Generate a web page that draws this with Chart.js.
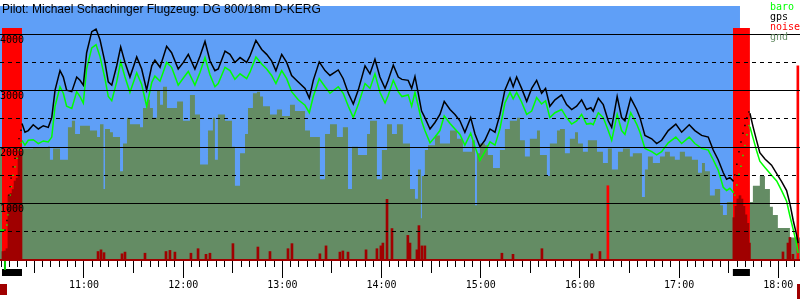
<!DOCTYPE html>
<html>
<head>
<meta charset="utf-8">
<script src="https://cdn.jsdelivr.net/npm/chart.js@4.4.1/dist/chart.umd.min.js"></script>
<style>
  html, body { margin: 0; padding: 0; background: #fff; }
  #wrap { width: 800px; height: 300px; }
</style>
</head>
<body>
<div id="wrap"><canvas id="baro" width="800" height="300"></canvas></div>
<script>
const TITLE = 'Pilot: Michael Schachinger Flugzeug: DG 800/18m D-KERG';

// times are minutes after midnight
const TIMES = [
  609.2, 612.2, 613.4, 614.0, 614.6, 615.3, 615.9, 617.1, 618.3, 619.5,
  620.7, 621.9, 622.5, 624.3, 626.3, 629.3, 632.4, 635.4, 638.4, 640.5,
  642.5, 645.5, 647.5, 649.5, 652.6, 655.6, 657.6, 659.6, 661.6, 664.7,
  667.3, 669.7, 672.7, 674.7, 676.8, 679.8, 682.2, 684.8, 687.8, 691.9,
  694.9, 697.9, 701.0, 702.9, 706.0, 710.0, 713.0, 717.0, 720.1, 723.1,
  727.1, 730.2, 733.2, 736.2, 739.2, 741.2, 745.3, 748.3, 751.3, 754.4,
  758.4, 760.4, 764.0, 767.5, 770.5, 773.5, 776.1, 779.6, 782.6, 785.6,
  789.6, 793.7, 796.3, 798.7, 802.3, 805.8, 808.8, 813.8, 816.8, 819.9,
  822.9, 825.9, 830.0, 833.0, 836.0, 839.0, 842.1, 844.0, 847.1, 850.1,
  852.3, 856.1, 858.2, 860.2, 862.2, 864.2, 866.2, 869.3, 872.3, 875.3,
  877.9, 881.4, 884.4, 887.4, 890.4, 893.9, 896.5, 899.5, 902.5, 905.6,
  908.6, 911.6, 914.6, 917.7, 919.6, 921.7, 924.7, 927.8, 930.8, 933.8,
  936.8, 939.2, 941.8, 944.9, 948.9, 951.9, 955.0, 958.0, 961.0, 964.0,
  966.6, 968.0, 971.1, 974.1, 977.1, 979.2, 982.5, 985.2, 987.2, 990.7,
  994.3, 996.3, 999.3, 1003.4, 1006.4, 1009.4, 1013.4, 1018.0, 1021.5, 1026.1,
  1029.5, 1033.6, 1037.6, 1040.6, 1043.6, 1046.7, 1048.7, 1050.7, 1052.7, 1053.7,
  1054.9, 1056.2, 1057.4, 1058.6, 1059.8, 1061.0, 1062.2, 1062.8, 1064.8, 1066.9,
  1068.8, 1071.9, 1075.9, 1079.0, 1082.0, 1085.0, 1087.0, 1089.0, 1091.0, 1092.0
];
const GPS_ALT = [
  null, 530, 700, 900, 1150, 1300, 1450, 1650, 1800, 1990,
  2150, 2300, 2420, 2264, 2293, 2397, 2321, 2379, 2350, 2522,
  3010, 3355, 3241, 3010, 2983, 3241, 3183, 3097, 3672, 4045,
  4091, 3902, 3500, 3155, 3097, 3441, 3776, 3500, 3241, 3597,
  3384, 3010, 3441, 3540, 3414, 3786, 3672, 3384, 3500, 3643,
  3384, 3614, 3872, 3530, 3355, 3384, 3700, 3643, 3500, 3586,
  3500, 3614, 3890, 3729, 3643, 3528, 3355, 3643, 3500, 3269,
  3155, 3040, 2867, 3183, 3510, 3355, 3269, 3367, 3212, 2953,
  2764, 3010, 3441, 3298, 3557, 3241, 3040, 3183, 3453, 3241,
  3200, 3183, 3040, 3252, 2953, 2638, 2522, 2321, 2436, 2579,
  2810, 2666, 2579, 2466, 2264, 2522, 2234, 2005, 2121, 2321,
  2264, 2579, 3010, 3224, 3069, 3241, 3040, 2810, 3040, 3183,
  2953, 3040, 2724, 2838, 2924, 2752, 2666, 2724, 2838, 2666,
  2700, 2638, 2867, 2752, 2466, 2350, 2897, 2522, 2466, 2867,
  2666, 2522, 2207, 2148, 2062, 2121, 2293, 2407, 2264, 2397,
  2293, 2207, 2178, 1948, 1776, 1545, 1431, 1459, 1402, 1505,
  1695, 1919, 2091, 2246, 2384, 2522, 2621, 2600, 2350, 2110,
  1900, 1790, 1680, 1530, 1390, 1230, 1000, 700, 450, 300
];
const BARO_ALT = [
  530, 530, 620, 800, 1000, 1150, 1300, 1500, 1650, 1800,
  1950, 2080, 2120, 2034, 2121, 2132, 2063, 2109, 2092, 2178,
  2724, 3069, 2954, 2724, 2684, 2983, 2896, 2781, 3385, 3759,
  3816, 3603, 3213, 2896, 2822, 3155, 3511, 3241, 2971, 3316,
  3109, 2724, 3144, 3258, 3167, 3500, 3414, 3098, 3224, 3339,
  3098, 3328, 3586, 3282, 3069, 3126, 3414, 3356, 3201, 3299,
  3213, 3328, 3598, 3471, 3385, 3270, 3126, 3356, 3213, 2983,
  2839, 2741, 2609, 2896, 3213, 3069, 2954, 3069, 2954, 2724,
  2523, 2753, 3126, 3040, 3299, 2971, 2781, 2914, 3184, 2983,
  2896, 2925, 2724, 2971, 2724, 2465, 2293, 2075, 2178, 2293,
  2552, 2419, 2322, 2224, 2034, 2247, 2006, 1764, 1919, 2092,
  2034, 2322, 2781, 2971, 2856, 2971, 2799, 2580, 2638, 2879,
  2764, 2822, 2523, 2609, 2667, 2523, 2408, 2465, 2580, 2408,
  2420, 2396, 2609, 2523, 2293, 2121, 2580, 2293, 2224, 2609,
  2408, 2264, 1977, 1919, 1862, 1919, 2075, 2178, 2063, 2178,
  2063, 1977, 1948, 1776, 1592, 1287, 1230, 1270, 1201, 1150,
  1330, 1520, 1660, 1850, 2030, 2220, 2380, 2360, 2150, 1930,
  1750, 1640, 1500, 1400, 1230, 1040, 780, 540, 290, 120
];

// terrain elevation, each value holds until the next time
const GND_TIME = [
  609.2, 629.2, 638.2, 639.4, 641.3, 645.5, 650.3, 652.7, 654.6, 657.6,
  663.6, 667.9, 669.7, 671.8, 672.7, 675.7, 677.5, 681.8, 683.6, 686.0,
  687.8, 693.9, 695.7, 698.1, 699.9, 701.7, 704.2, 706.0, 707.8, 710.2,
  716.3, 719.9, 724.1, 727.1, 730.2, 735.0, 738.0, 739.2, 741.0, 745.3,
  749.5, 751.3, 754.4, 757.4, 759.2, 762.2, 764.6, 766.5, 768.3, 772.5,
  776.7, 779.8, 784.6, 787.6, 793.7, 796.7, 802.7, 805.8, 808.8, 813.0,
  816.6, 819.7, 822.1, 825.7, 831.2, 833.0, 837.2, 840.2, 843.3, 846.3,
  849.3, 852.9, 857.2, 860.2, 862.0, 863.8, 864.4, 866.2, 868.1, 872.3,
  875.3, 881.4, 885.6, 889.2, 894.7, 896.5, 897.7, 899.5, 902.5, 904.3,
  907.4, 911.6, 914.6, 917.6, 921.9, 923.7, 926.7, 929.7, 934.0, 935.8,
  940.0, 941.8, 946.1, 947.9, 950.9, 953.9, 957.0, 958.8, 961.8, 964.8,
  970.3, 973.9, 976.9, 979.3, 983.0, 986.0, 990.2, 992.0, 997.5, 999.3,
  1001.1, 1004.1, 1008.4, 1011.4, 1014.4, 1017.4, 1020.4, 1023.5, 1027.7, 1031.4,
  1033.8, 1035.6, 1038.6, 1041.6, 1044.8, 1046.5, 1048.9, 1052.5, 1062.8, 1064.6,
  1068.8, 1071.9, 1074.9, 1076.7, 1079.7, 1087.0, 1093.1
];
const GND_ALT = [
  1976, 1993, 2010, 1776, 1976, 1776, 2350, 2466, 2234, 2379,
  2293, 2178, 2407, 1258, 2321, 2264, 2178, 1574, 2062, 2522,
  2407, 2350, 2695, 2838, 2695, 2522, 3010, 2752, 3069, 2695,
  2810, 2466, 2924, 2579, 1690, 2293, 2522, 1776, 2579, 2466,
  2005, 1316, 1890, 2234, 2695, 2953, 2981, 2895, 2724, 2579,
  2666, 2550, 2752, 2638, 2293, 2178, 1431, 2234, 2407, 2178,
  2350, 1258, 2005, 1862, 2234, 2466, 1431, 1948, 2407, 2234,
  2407, 2062, 1258, 1086, 1603, 741, 1488, 1948, 2034, 2207,
  2062, 2293, 2150, 1919, 2121, 971, 1890, 2062, 2034, 1862,
  1631, 1948, 2321, 2466, 2522, 2121, 1833, 2150, 2293, 1862,
  1488, 2062, 2293, 2321, 1890, 2150, 2264, 2062, 1919, 2121,
  1919, 1718, 1976, 1603, 1919, 1976, 1833, 1890, 1114, 1603,
  1833, 1718, 1833, 1919, 1833, 1776, 1919, 1833, 1776, 1545,
  1718, 1574, 1143, 1258, 971, 798, 1029, 1000, 1029, 1316,
  1488, 1258, 943, 798, 569, 397, 397
];

// engine noise level
const NOISE_TIME = [
  611.0, 612.2, 613.4, 614.6, 615.9, 617.1, 618.3, 619.5, 620.7, 621.9,
  668.5, 670.3, 672.1, 683.0, 684.8, 696.9, 709.6, 712.0, 715.0, 724.7,
  729.0, 733.8, 736.2, 750.1, 765.2, 772.5, 783.4, 785.8, 802.7, 806.4,
  814.8, 816.6, 819.7, 830.6, 837.2, 839.6, 840.8, 843.3, 846.3, 855.9,
  857.2, 861.4, 862.6, 864.4, 866.2, 912.8, 919.5, 937.0, 967.2, 972.1,
  976.9, 1053.1, 1054.3, 1055.5, 1056.8, 1058.0, 1059.2, 1060.4, 1061.6, 1062.5,
  1082.8, 1085.8, 1087.0, 1088.8, 1091.8
];
const NOISE_VAL = [
  150, 160, 200, 1150, 1180, 1250, 1400, 1450, 1850, 1900,
  150, 180, 130, 110, 140, 120, 150, 170, 140, 120,
  200, 100, 120, 290, 230, 150, 200, 290, 110, 250,
  140, 160, 140, 180, 200, 250, 300, 1074, 557, 436,
  300, 180, 609, 250, 250, 120, 100, 200, 110, 150,
  1316, 750, 950, 1080, 1140, 1080, 950, 800, 650, 300,
  143, 300, 400, 100, 3440
];

const ENGINE_ON = [610.4, 1052.5];
const ENGINE_OFF = [622.5, 1062.8];
const TASK_START = 609.2;
const TASK_END = 1056.8;

const X_MIN = 609.2, X_MAX = 1093.1;
const Y_MAX = 4500, BAND_TOP = 4110;
const SOLID_LEVELS = [1000, 2000, 3000, 4000];
const DASH_LEVELS = [500, 1500, 2500, 3500];

const C_BLUE = '#5f9ff7', C_GND = '#648c64', C_BARO = '#00ff00', C_GPS = '#000000';
const C_NOISE = '#a00000', C_ENGINE = '#ff0000';

const inEngine = t => ENGINE_ON.some((on, i) => t >= on && t < ENGINE_OFF[i]);
const pts = (xs, ys) => xs.map((t, i) => ({ x: t, y: ys[i] }));
const hhmm = m => `${Math.floor(m / 60)}:${String(m % 60).padStart(2, '0')}`;
const monoFont = { family: '"DejaVu Sans Mono", monospace', size: 10 };

const overlay = {
  id: 'overlay',
  afterDraw(chart) {
    const { ctx, chartArea, scales: { x } } = chart;
    ctx.save();
    ctx.textBaseline = 'alphabetic';
    ctx.fillStyle = '#000';
    ctx.font = '12px "Liberation Sans", Arial, sans-serif';
    ctx.fillText(TITLE, 2, 13);

    ctx.font = '10px "DejaVu Sans Mono", monospace';
    [['baro', C_BARO], ['gps', C_GPS], ['noise', C_ENGINE], ['gnd', C_GND]].forEach(([t, c], i) => {
      ctx.fillStyle = c;
      ctx.fillText(t, 770, 10 + i * 10);
    });

    // engine run bars under the time axis
    ctx.fillStyle = '#000';
    ENGINE_ON.forEach((on, i) => {
      const x0 = x.getPixelForValue(on), x1 = x.getPixelForValue(ENGINE_OFF[i]);
      ctx.fillRect(x0, chartArea.bottom + 9, x1 - x0, 7);
    });
    // takeoff mark and log start / end marks
    ctx.fillStyle = '#00cc00';
    ctx.fillRect(x.getPixelForValue(TIMES[1]) - 1, chartArea.bottom + 1, 2, 9);
    ctx.fillStyle = C_NOISE;
    ctx.fillRect(chartArea.left, chartArea.bottom + 24, 7, 11);
    ctx.fillRect(chartArea.right - 3, chartArea.bottom + 24, 3, 15);
    ctx.restore();
  }
};

const bandData = ENGINE_ON.flatMap((on, i) => [
  { x: on, y: BAND_TOP }, { x: ENGINE_OFF[i], y: BAND_TOP }, { x: ENGINE_OFF[i], y: null }
]);

new Chart(document.getElementById('baro'), {
  type: 'line',
  data: {
    datasets: [
      {
        label: 'gps', data: pts(TIMES, GPS_ALT), borderColor: C_GPS, borderWidth: 1.5,
        pointRadius: c => (c.raw && inEngine(c.raw.x) ? 1 : 0), pointBorderWidth: 0,
        pointBackgroundColor: C_GPS, pointStyle: 'rect',
        segment: { borderColor: c => (inEngine(c.p0.parsed.x) ? 'transparent' : undefined) }
      },
      {
        label: 'baro', data: pts(TIMES, BARO_ALT), borderColor: C_BARO, borderWidth: 1.5,
        pointRadius: c => (c.raw && inEngine(c.raw.x) ? 1 : 0), pointBorderWidth: 0,
        pointBackgroundColor: C_BARO, pointStyle: 'rect',
        segment: { borderColor: c => (inEngine(c.p0.parsed.x) ? 'transparent' : undefined) }
      },
      {
        type: 'bar', label: 'noise', data: pts(NOISE_TIME, NOISE_VAL), barThickness: 2,
        backgroundColor: c => (c.raw && c.raw.y > 1200 && !inEngine(c.raw.x) ? C_ENGINE : C_NOISE)
      },
      {
        label: 'engine', data: bandData, borderWidth: 0, pointRadius: 0,
        fill: 'origin', backgroundColor: C_ENGINE, spanGaps: false
      },
      {
        label: 'gnd', data: pts(GND_TIME, GND_ALT), stepped: true, borderWidth: 0, pointRadius: 0,
        fill: 'origin', backgroundColor: C_GND
      },
      {
        label: 'task', data: [{ x: TASK_START, y: Y_MAX }, { x: TASK_END, y: Y_MAX }],
        borderWidth: 0, pointRadius: 0, fill: 'origin', backgroundColor: C_BLUE
      }
    ]
  },
  options: {
    responsive: false,
    animation: false,
    devicePixelRatio: 1,
    layout: { padding: { left: 0, right: 0, top: 0, bottom: 8 } },
    plugins: { legend: { display: false }, tooltip: { enabled: false }, title: { display: false } },
    elements: { line: { tension: 0 } },
    scales: {
      x: {
        type: 'linear', min: X_MIN, max: X_MAX, offset: false,
        afterBuildTicks: s => {
          const ticks = [];
          for (let m = Math.ceil(X_MIN / 5) * 5; m <= X_MAX; m += 5) ticks.push({ value: m });
          s.ticks = ticks;
        },
        grid: {
          z: 1, drawOnChartArea: false, offset: false, color: '#000', tickLength: 18, tickWidth: 1,
          tickBorderDash: c => (c.tick.value % 60 === 0 ? [] : c.tick.value % 30 === 0 ? [12, 40] : [6, 40])
        },
        border: { z: 1, display: true, color: C_NOISE, width: 2 },
        ticks: {
          z: 1, autoSkip: false, maxRotation: 0, minRotation: 0, padding: 1, color: '#000',
          font: monoFont,
          callback: v => (v % 60 === 0 ? hhmm(v) : '')
        }
      },
      y: {
        type: 'linear', position: 'left', min: 0, max: Y_MAX,
        afterBuildTicks: s => { s.ticks = SOLID_LEVELS.map(v => ({ value: v })); },
        grid: { z: 1, color: '#000', lineWidth: 1, drawTicks: false },
        border: { display: false },
        ticks: {
          z: 1, mirror: true, padding: 0, labelOffset: 6, color: '#000',
          font: monoFont,
          callback: v => String(v)
        }
      },
      y2: {
        type: 'linear', position: 'left', min: 0, max: Y_MAX,
        afterBuildTicks: s => { s.ticks = DASH_LEVELS.map(v => ({ value: v })); },
        grid: { z: 1, color: '#000', lineWidth: 1, drawTicks: false },
        border: { display: false, dash: [4, 4] },
        ticks: { display: false }
      }
    }
  },
  plugins: [overlay]
});
</script>
</body>
</html>
